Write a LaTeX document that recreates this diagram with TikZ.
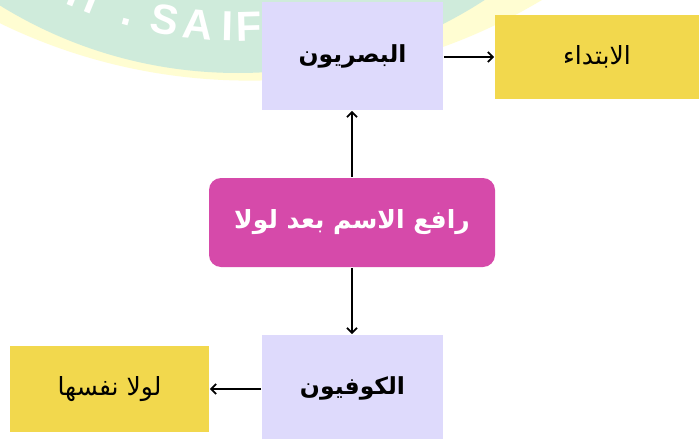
\documentclass[tikz,border=0pt]{standalone}
\usepackage{fontspec}
\newfontfamily\arabicfont[Script=Arabic]{DejaVu Sans}
\newfontfamily\logofont{Liberation Sans}
\TeXXeTstate=1
\usetikzlibrary{arrows.meta}
\definecolor{boxlilac}{RGB}{222,218,252}
\definecolor{boxgold}{RGB}{242,216,77}
\definecolor{boxpink}{RGB}{214,74,170}
\definecolor{logomint}{RGB}{207,235,219}
\definecolor{logocream}{RGB}{255,253,210}
\newcommand{\rtl}[1]{{\arabicfont\beginR #1\endR}}
\begin{document}
\begin{tikzpicture}[x=1pt, y=1pt, line width=1.8pt, >={Straight Barb[length=5pt,width=10pt]},
  school node/.style={rectangle, fill=boxlilac, minimum width=181pt, minimum height=108pt, inner sep=0pt, font=\bfseries\fontsize{23.5}{28}\selectfont},
  answer node/.style={rectangle, fill=boxgold, minimum height=84pt, inner sep=0pt, font=\fontsize{25}{29}\selectfont},
  main node/.style={rectangle, rounded corners=12pt, fill=boxpink, text=white, minimum width=286pt, minimum height=89pt, inner sep=0pt, font=\bfseries\fontsize{25}{30}\selectfont}]
\useasboundingbox (0,0) rectangle (699,-439);
\clip (0,0) rectangle (699,-439);
\fill[white] (0,0) rectangle (699,-439);
% watermark of the logo
\fill[logocream] (249.5,489.4) circle (570);
\fill[logomint] (238,380) circle (453);
\begin{scope}[shift={(238,380)}, every node/.style={text=white, inner sep=0pt, anchor=base, font=\logofont\bfseries\fontsize{42}{42}\selectfont}]
\foreach \ch/\ang in {H/247.7, ./254.4, S/259.6, A/264.4, I/268.6, F/271.6}
  \node [rotate=\ang+90] at (\ang:421) {\ch};
\end{scope}
% boxes
\node [school node] (basri) at (352.5,-56) {\rtl{البصريون}};
\node [answer node, minimum width=204pt] (ibtida) at (597,-57) {\rtl{الابتداء}};
\node [main node] (rafi) at (352,-222.5) {\rtl{رافع الاسم بعد لولا}};
\node [school node, minimum height=106pt] (kufi) at (352.5,-388) {\rtl{الكوفيون}};
\node [answer node, minimum width=199pt, minimum height=86pt] (lawla) at (109.5,-389) {\rtl{لولا نفسها}};
% arrows
\draw [->] (rafi.north) -- (rafi.north |- basri.south);
\draw [->] (rafi.south) -- (rafi.south |- kufi.north);
\draw [->] (basri.east |- ibtida.west) -- (ibtida.west);
\draw [->] (kufi.west |- lawla.east) -- (lawla.east);
\end{tikzpicture}
\end{document}
